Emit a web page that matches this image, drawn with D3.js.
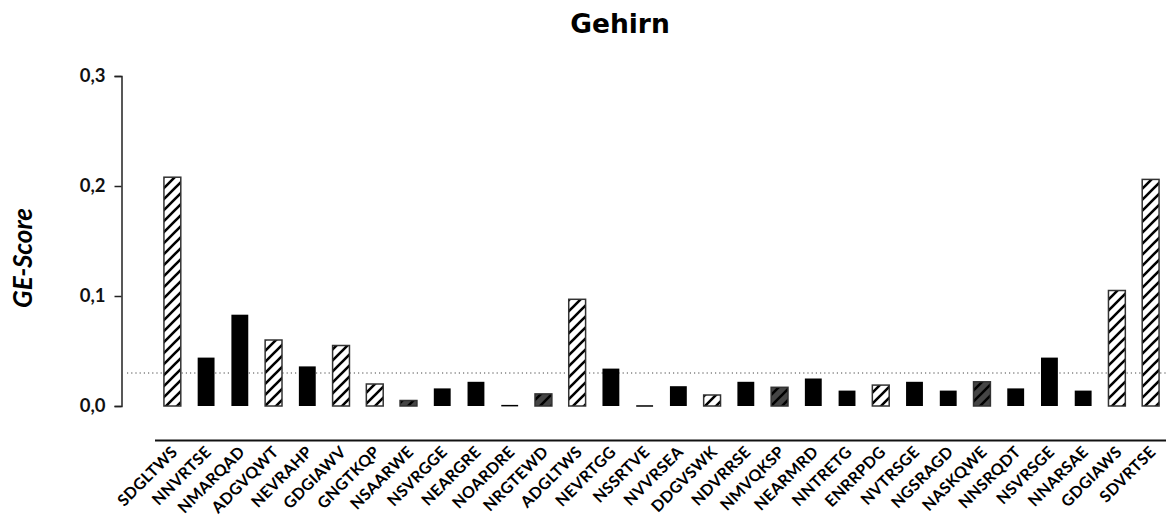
<!DOCTYPE html>
<html lang="en">
<head>
    <meta charset="UTF-8">
    <title>Gehirn</title>
    <script src="https://cdn.jsdelivr.net/npm/d3@7"></script>
    <style>
        body { margin: 0; background: #fff; }
        svg { display: block; }
    </style>
</head>
<body>
    <div id="chart"></div>
    <script>
        // peptide categories, their GE-score and bar style
        const categories = ["SDGLTWS", "NNVRTSE", "NMARQAD", "ADGVQWT", "NEVRAHP", "GDGIAWV", "GNGTKQP", "NSAARWE",
            "NSVRGGE", "NEARGRE", "NOARDRE", "NRGTEWD", "ADGLTWS", "NEVRTGG", "NSSRTVE", "NVVRSEA", "DDGVSWK",
            "NDVRRSE", "NMVQKSP", "NEARMRD", "NNTRETG", "ENRRPDG", "NVTRSGE", "NGSRAGD", "NASKQWE", "NNSRQDT",
            "NSVRSGE", "NNARSAE", "GDGIAWS", "SDVRTSE"];
        const scores = [0.208, 0.044, 0.083, 0.060, 0.036, 0.055, 0.020, 0.005,
            0.016, 0.022, 0.001, 0.011, 0.097, 0.034, 0.0007, 0.018, 0.010,
            0.022, 0.017, 0.025, 0.014, 0.019, 0.022, 0.014, 0.022, 0.016,
            0.044, 0.014, 0.105, 0.206];
        const kinds = ["hatch", "black", "black", "hatch", "black", "hatch", "hatch", "dark",
            "black", "black", "black", "dark", "hatch", "black", "black", "black", "hatch",
            "black", "dark", "black", "black", "hatch", "black", "black", "dark", "black",
            "black", "black", "hatch", "hatch"];
        const yTicks = [0, 0.1, 0.2, 0.3];
        const threshold = 0.03;

        const data = categories.map((c, i) => ({ name: c, value: scores[i], kind: kinds[i] }));

        const W = 1166, H = 522;
        const svg = d3.select("#chart").append("svg").attr("width", W).attr("height", H);

        const defs = svg.append("defs");
        [["hatch", "#fff"], ["dark", "#454545"]].forEach(([id, bg]) => {
            const p = defs.append("pattern").attr("id", "p-" + id)
                .attr("patternUnits", "userSpaceOnUse").attr("width", 11).attr("height", 11);
            p.append("rect").attr("width", 11).attr("height", 11).attr("fill", bg);
            p.append("path").attr("d", "M0,11 L11,0 M-3,3 L3,-3 M8,14 L14,8")
                .attr("stroke", "#000").attr("stroke-width", 2.6);
        });

        const x = d3.scaleBand().domain(categories).range([155.5, 1167.5]).paddingInner(0.5).paddingOuter(0.25);
        const y = d3.scaleLinear().domain([0, 0.3]).range([406, 76]);

        // title
        svg.append("text").attr("x", 620).attr("y", 33).attr("text-anchor", "middle")
            .style("font-family", "'DejaVu Sans', sans-serif").style("font-weight", "bold")
            .style("font-size", "26.5px").text("Gehirn");

        // y axis
        const yAxis = svg.append("g").attr("transform", "translate(121.5,0)")
            .call(d3.axisLeft(y).tickValues(yTicks).tickSize(7).tickPadding(9)
                .tickFormat(d => d3.format(".1f")(d).replace(".", ",")));
        yAxis.select(".domain").attr("stroke", "#222").attr("stroke-width", 1.5);
        yAxis.selectAll(".tick line").attr("stroke", "#222").attr("stroke-width", 1.5);
        yAxis.selectAll("text").style("font-family", "Lato, sans-serif").style("font-weight", "bold")
            .style("font-size", "18.5px").attr("fill", "#111");

        svg.append("text").attr("transform", "translate(32,258) rotate(-90)").attr("text-anchor", "middle")
            .style("font-family", "Lato, sans-serif").style("font-weight", "bold").style("font-style", "italic")
            .style("font-size", "26px").text("GE-Score");

        // threshold line
        svg.append("line").attr("x1", 127).attr("x2", W).attr("y1", y(threshold)).attr("y2", y(threshold))
            .attr("stroke", "#444").attr("stroke-width", 1).attr("stroke-dasharray", "1.2,3");

        // bars
        svg.selectAll(".bar").data(data).join("rect").attr("class", "bar")
            .attr("x", d => x(d.name))
            .attr("y", d => y(d.value))
            .attr("width", x.bandwidth())
            .attr("height", d => Math.max(1.5, y(0) - y(d.value)))
            .attr("fill", d => d.kind === "black" ? "#000" : `url(#p-${d.kind})`)
            .attr("stroke", d => d.kind === "black" ? "none" : "#333")
            .attr("stroke-width", 1.5);

        // x axis line and labels
        svg.append("line").attr("x1", 155).attr("x2", W).attr("y1", 440.5).attr("y2", 440.5)
            .attr("stroke", "#111").attr("stroke-width", 1.8);

        svg.selectAll(".xlab").data(data).join("text").attr("class", "xlab")
            .attr("transform", d => `translate(${x(d.name) + x.bandwidth() / 2 + 6},453) rotate(-45)`)
            .attr("text-anchor", "end")
            .style("font-family", "Lato, sans-serif").style("font-weight", "bold").style("font-size", "16px")
            .style("letter-spacing", "0.3px")
            .text(d => d.name);
    </script>
</body>
</html>
